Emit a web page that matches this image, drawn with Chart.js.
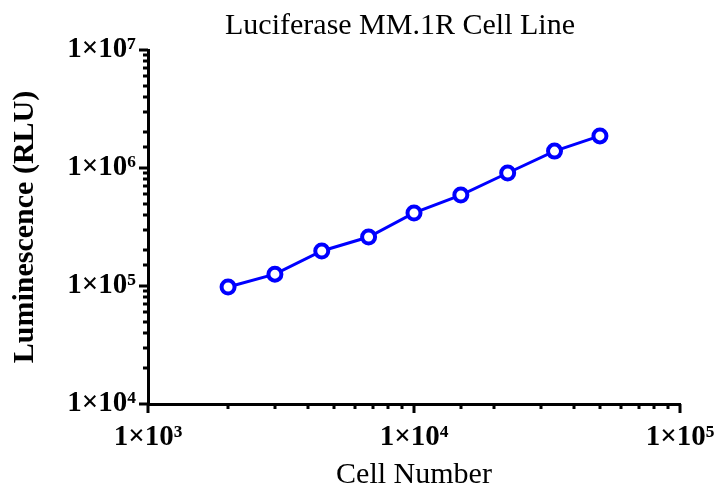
<!DOCTYPE html>
<html>
<head>
<meta charset="utf-8">
<script src="https://cdn.jsdelivr.net/npm/chart.js@4/dist/chart.umd.min.js"></script>
<style>
  html, body { margin: 0; padding: 0; background: #fff; }
  #wrap { width: 715px; height: 485px; }
</style>
</head>
<body>
<div id="wrap"><canvas id="myChart"></canvas></div>
<script>
'use strict'

// data
var cellNumber = [2000, 3000, 4500, 6750, 10000, 15000, 22500, 33750, 50000]
var luminescence = [98000, 126000, 198000, 260000, 416000, 590000, 907000, 1390000, 1870000]

var xRange = [1e3, 1e5]
var yRange = [1e4, 1e7]

var SUP = { '0': '⁰', '1': '¹', '2': '²', '3': '³', '4': '⁴', '5': '⁵', '6': '⁶', '7': '⁷', '8': '⁸', '9': '⁹' }

function isDecade(v) {
  var l = Math.log10(v)
  return Math.abs(l - Math.round(l)) < 1e-9
}

function powLabel(v) {
  if (!isDecade(v)) return ''
  var e = String(Math.round(Math.log10(v)))
  return '1×10' + e.split('').map(function (c) { return SUP[c] }).join('')
}

// GraphPad style tick marks, drawn outward, long at decades
var tickMarks = {
  id: 'tickMarks',
  afterDraw: function (chart) {
    var ctx = chart.ctx
    ctx.save()
    ctx.strokeStyle = '#000'
    ctx.lineWidth = 3
    var xs = chart.scales.x
    xs.ticks.forEach(function (t) {
      var px = Math.round(xs.getPixelForValue(t.value))
      var len = isDecade(t.value) ? 9 : 5
      ctx.beginPath()
      ctx.moveTo(px, xs.top)
      ctx.lineTo(px, xs.top + len)
      ctx.stroke()
    })
    var ys = chart.scales.y
    ys.ticks.forEach(function (t) {
      var py = Math.round(ys.getPixelForValue(t.value))
      var len = isDecade(t.value) ? 9 : 5
      ctx.beginPath()
      ctx.moveTo(ys.right, py)
      ctx.lineTo(ys.right - len, py)
      ctx.stroke()
    })
    ctx.restore()
  }
}

// the title sits a bit right of the canvas centre in the original
var titleShift = {
  id: 'titleShift',
  afterLayout: function (chart) {
    var tb = chart.titleBlock
    if (tb) { tb.left += 60; tb.right += 60 }
  }
}

var ctx = document.getElementById('myChart')
// eslint-disable-next-line no-unused-vars
var myChart = new Chart(ctx, {
  type: 'line',
  data: {
    datasets: [{
      data: cellNumber.map(function (x, i) { return { x: x, y: luminescence[i] } }),
      borderColor: '#0000FF',
      borderWidth: 3,
      pointRadius: 6.5,
      pointBorderWidth: 4,
      pointBorderColor: '#0000FF',
      pointBackgroundColor: '#FFFFFF',
      lineTension: 0
    }]
  },
  options: {
    responsive: true,
    maintainAspectRatio: false,
    animation: false,
    layout: { padding: { left: 0, right: 35, top: 0, bottom: 0 } },
    plugins: {
      legend: { display: false },
      tooltip: { enabled: false },
      title: {
        display: true,
        text: 'Luciferase MM.1R Cell Line',
        color: '#000',
        font: { family: 'Liberation Serif', size: 30, weight: 'normal', lineHeight: 1.2 },
        padding: { top: 8, bottom: 6 }
      }
    },
    scales: {
      x: {
        type: 'logarithmic',
        min: xRange[0],
        max: xRange[1],
        border: { display: true, color: '#000', width: 3 },
        grid: { display: false },
        ticks: {
          autoSkip: false,
          maxRotation: 0,
          padding: 8,
          color: '#000',
          font: { family: 'Liberation Serif', size: 29, weight: 'bold' },
          callback: function (v) { return powLabel(v) }
        },
        title: {
          display: true,
          text: 'Cell Number',
          color: '#000',
          font: { family: 'Liberation Serif', size: 30, weight: 'normal', lineHeight: 1.1 },
          padding: { top: 0, bottom: -7 }
        },
        afterFit: function (s) { s.height = 81; s.paddingLeft = 0; s.paddingRight = 0 }
      },
      y: {
        type: 'logarithmic',
        min: yRange[0],
        max: yRange[1],
        border: { display: true, color: '#000', width: 3 },
        grid: { display: false },
        ticks: {
          autoSkip: false,
          padding: 4,
          color: '#000',
          font: { family: 'Liberation Serif', size: 29, weight: 'bold' },
          callback: function (v) { return powLabel(v) }
        },
        title: {
          display: true,
          text: 'Luminescence (RLU)',
          color: '#000',
          font: { family: 'Liberation Serif', size: 30, weight: 'bold', lineHeight: 1.2 },
          padding: { top: 7, bottom: 0 }
        },
        afterFit: function (s) { s.width = 148; s.paddingTop = 0; s.paddingBottom = 0 }
      }
    }
  },
  plugins: [tickMarks, titleShift]
})
</script>
</body>
</html>
